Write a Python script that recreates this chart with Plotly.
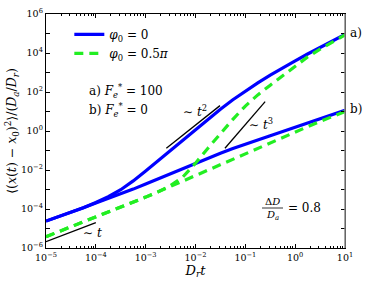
import plotly.graph_objects as go

# ---- data, stored as log10 values ----
log_t = [-5, -4.75, -4.5, -4.25, -4, -3.75, -3.5, -3.25, -3, -2.75, -2.5, -2.25, -2,
         -1.75, -1.5, -1.25, -1, -0.75, -0.5, -0.25, 0, 0.25, 0.5, 0.75, 1]

log_msd_phi0_Fa = [-4.62, -4.40, -4.17, -3.93, -3.67, -3.37, -3.01, -2.56, -2.05, -1.52, -0.98, -0.43, 0.1,
                   0.62, 1.12, 1.6, 2.05, 2.47, 2.87, 3.25, 3.6, 3.95, 4.29, 4.62, 4.95]
log_msd_phi0_Fb = [-4.62, -4.40, -4.17, -3.93, -3.69, -3.46, -3.23, -2.98, -2.72, -2.45, -2.18, -1.91, -1.65,
                   -1.39, -1.14, -0.9, -0.67, -0.45, -0.24, -0.03, 0.18, 0.4, 0.62, 0.84, 1.06]
log_msd_phi05_Fa = [-5.42, -5.17, -4.92, -4.67, -4.42, -4.17, -3.91, -3.65, -3.39, -3.12, -2.80, -2.35, -1.65,
                    -0.88, -0.12, 0.6, 1.28, 1.85, 2.35, 2.85, 3.35, 3.8, 4.2, 4.58, 4.93]
log_msd_phi05_Fb = [-5.42, -5.17, -4.92, -4.67, -4.42, -4.17, -3.91, -3.65, -3.39, -3.12, -2.84, -2.56, -2.27,
                    -1.98, -1.7, -1.42, -1.15, -0.88, -0.61, -0.33, -0.05, 0.22, 0.49, 0.75, 1.0]

guide_t1_t = [1e-5, 1e-4]
guide_t1_y = [2.1e-6, 2.0e-5]
guide_t2_t = [2.6e-3, 3.1e-2]
guide_t2_y = [0.13, 20]
guide_t3_t = [3.9e-2, 0.25]
guide_t3_y = [0.13, 32]

x_tick_vals = [1e-5, 1e-4, 1e-3, 1e-2, 1e-1, 1e0, 1e1]
x_tick_text = ["10<sup>−5</sup>", "10<sup>−4</sup>", "10<sup>−3</sup>", "10<sup>−2</sup>",
               "10<sup>−1</sup>", "10<sup>0</sup>", "10<sup>1</sup>"]
y_tick_vals = [1e-6, 1e-4, 1e-2, 1e0, 1e2, 1e4, 1e6]
y_tick_text = ["10<sup>−6</sup>", "10<sup>−4</sup>", "10<sup>−2</sup>", "10<sup>0</sup>",
               "10<sup>2</sup>", "10<sup>4</sup>", "10<sup>6</sup>"]

t_vals = [10 ** v for v in log_t]
def unlog(arr):
    return [10 ** v for v in arr]

BLUE = "#0000ff"
GREEN = "#22ee22"
FONT = "DejaVu Serif"

fig = go.Figure()

fig.add_trace(go.Scatter(x=t_vals, y=unlog(log_msd_phi0_Fa), mode="lines", name="<i>φ</i><sub>0</sub> = 0",
                         line=dict(color=BLUE, width=3.2)))
fig.add_trace(go.Scatter(x=t_vals, y=unlog(log_msd_phi0_Fb), mode="lines", showlegend=False,
                         line=dict(color=BLUE, width=3.2)))
fig.add_trace(go.Scatter(x=t_vals, y=unlog(log_msd_phi05_Fa), mode="lines", name="<i>φ</i><sub>0</sub> = 0.5<i>π</i>",
                         line=dict(color=GREEN, width=3.2, dash="9px,6px")))
fig.add_trace(go.Scatter(x=t_vals, y=unlog(log_msd_phi05_Fb), mode="lines", showlegend=False,
                         line=dict(color=GREEN, width=3.2, dash="9px,6px")))

for gx, gy in [(guide_t1_t, guide_t1_y), (guide_t2_t, guide_t2_y), (guide_t3_t, guide_t3_y)]:
    fig.add_trace(go.Scatter(x=gx, y=gy, mode="lines", showlegend=False,
                             line=dict(color="black", width=1.3)))

def px(xp, yp):
    return (xp - 46) / 299.0, (248 - yp) / 234.0

annots = []
def label(text, xp, yp, size=12, xanchor="left"):
    x, y = px(xp, yp)
    annots.append(dict(text=text, x=x, y=y, xref="paper", yref="paper", showarrow=False,
                       xanchor=xanchor, yanchor="middle", font=dict(family=FONT, size=size, color="black")))

label("a) <i>F</i><sub><i>e</i></sub><sup>*</sup> = 100", 87, 91, 12)
label("b) <i>F</i><sub><i>e</i></sub><sup>*</sup> = 0", 87, 110, 12)
label("∼ <i>t</i><sup>2</sup>", 181, 111, 12)
label("∼ <i>t</i><sup>3</sup>", 247, 124, 12)
label("∼ <i>t</i>", 81, 233, 12)
label("a)", 348, 33, 12)
label("b)", 348, 109, 12)
label("Δ<i>D</i>", 272, 201, 10, "center")
label("<i>D</i><sub><i>a</i></sub>", 272, 215, 10, "center")
label("= 0.8", 286, 208, 12)

x0, y0 = px(262, 208)
x1, _ = px(283, 208)

fig.update_layout(
    width=374, height=281,
    margin=dict(l=46, r=29, t=14, b=33, autoexpand=False),
    paper_bgcolor="white", plot_bgcolor="white",
    font=dict(family=FONT, size=10, color="black"),
    showlegend=True,
    legend=dict(x=0.078, y=0.975, xanchor="left", yanchor="top", bgcolor="rgba(0,0,0,0)",
                font=dict(family=FONT, size=12), itemwidth=30, tracegroupgap=0),
    annotations=annots,
    shapes=[
        dict(type="line", xref="paper", yref="paper", x0=x0, x1=x1, y0=y0, y1=y0,
             line=dict(color="black", width=0.8)),
        dict(type="line", xref="paper", yref="paper", x0=1, x1=1, y0=0, y1=1,
             line=dict(color="#888888", width=1.5)),
    ],
    xaxis=dict(type="log", range=[-5, 1], tickvals=x_tick_vals, ticktext=x_tick_text,
               ticks="inside", ticklen=4, tickcolor="black", showline=True, linecolor="black",
               linewidth=1.2, mirror="ticks", showgrid=False, zeroline=False, automargin=False,
               tickfont=dict(family=FONT, size=9.5),
               minor=dict(ticks="inside", ticklen=2, tickcolor="black", dtick="D1", showgrid=False),
               title=dict(text="<i>D</i><sub><i>r</i></sub><i>t</i>", font=dict(family=FONT, size=13), standoff=2)),
    yaxis=dict(type="log", range=[-6, 6], tickvals=y_tick_vals, ticktext=y_tick_text,
               ticks="inside", ticklen=4, tickcolor="black", showline=True, linecolor="black",
               linewidth=1.2, mirror="ticks", showgrid=False, zeroline=False, automargin=False,
               tickfont=dict(family=FONT, size=9.5),
               minor=dict(ticks="inside", ticklen=4, tickcolor="black", dtick=1, showgrid=False),
               title=dict(text="⟨(<i>x</i>(<i>t</i>) − <i>x</i><sub>0</sub>)<sup>2</sup>⟩/(<i>D</i><sub><i>a</i></sub>/<i>D</i><sub><i>r</i></sub>)",
                          font=dict(family=FONT, size=12.5), standoff=1)),
)

fig.write_html("out.html", config={"displayModeBar": False, "staticPlot": True},
               post_script="document.body.style.margin='0';document.body.style.overflow='hidden';")
